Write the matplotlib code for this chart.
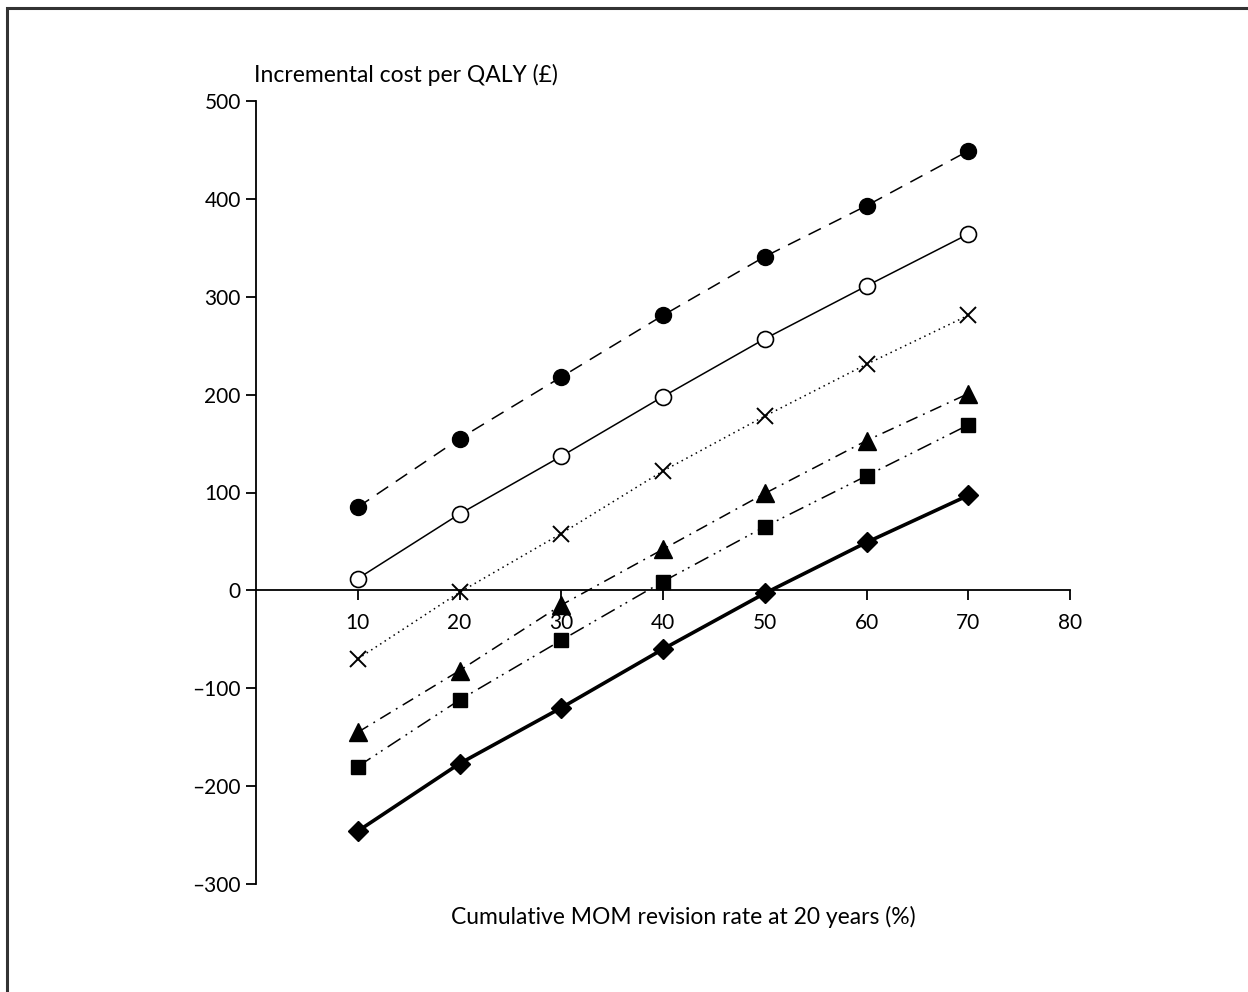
import matplotlib
matplotlib.use("Agg")
import matplotlib.pyplot as plt
from matplotlib.patches import Rectangle
from matplotlib.ticker import FuncFormatter

plt.rcParams['font.family'] = ['Lato', 'DejaVu Sans']

x = [10, 20, 30, 40, 50, 60, 70]
filled_circle = [85, 155, 218, 281, 341, 393, 449]
open_circle = [12, 78, 137, 198, 257, 311, 364]
cross = [-70, -2, 58, 122, 178, 231, 281]
triangle = [-145, -82, -15, 42, 99, 153, 201]
square = [-180, -112, -51, 9, 65, 117, 169]
diamond = [-246, -177, -120, -60, -3, 49, 97]

xticks = [10, 20, 30, 40, 50, 60, 70, 80]
yticks = [-300, -200, -100, 0, 100, 200, 300, 400, 500]

W, H = 1248, 992
fig = plt.figure(figsize=(W / 100, H / 100), dpi=100)
ax = fig.add_axes([256 / W, 1 - 884 / H, (1070 - 256) / W, (884 - 101) / H])

ax.plot(x, filled_circle, color='black', lw=1.1, ls=(0, (9, 6)), marker='o',
        ms=11.5, mfc='black', mec='black')
ax.plot(x, open_circle, color='black', lw=1.1, ls='-', marker='o',
        ms=11.5, mfc='white', mec='black', mew=1.2)
ax.plot(x, cross, color='black', lw=1.1, ls=(0, (1, 2.5)), marker='x',
        ms=11.5, mew=1.4)
ax.plot(x, triangle, color='black', lw=1.1, ls=(0, (8, 4, 1.2, 4)), marker='^',
        ms=12.5, mfc='black', mec='black')
ax.plot(x, square, color='black', lw=1.1, ls=(0, (10, 4, 1.2, 3, 1.2, 4)), marker='s',
        ms=10.5, mfc='black', mec='black')
ax.plot(x, diamond, color='black', lw=2.6, ls='-', marker='D',
        ms=10.5, mfc='black', mec='black')

ax.set_xlim(0, 80)
ax.set_ylim(-300, 500)
ax.set_xticks(xticks)
ax.set_yticks(yticks)
ax.spines['top'].set_visible(False)
ax.spines['right'].set_visible(False)
ax.spines['bottom'].set_position(('data', 0))
ax.spines['left'].set_linewidth(1.3)
ax.spines['bottom'].set_linewidth(1.3)
ax.tick_params(axis='both', direction='out', length=7, width=1.3, labelsize=15, colors='black')
ax.tick_params(axis='x', pad=9)
ax.tick_params(axis='y', pad=4)
ax.yaxis.set_major_formatter(FuncFormatter(lambda v, p: ('\u2013%d' % abs(v)) if v < 0 else '%d' % v))
ax.patch.set_visible(False)

fig.text(254 / W, 1 - 75 / H, 'Incremental cost per QALY (\u00a3)', fontsize=16.5,
         ha='left', va='center')
fig.text(683 / W, 1 - 917 / H, 'Cumulative MOM revision rate at 20 years (%)', fontsize=16.5,
         ha='center', va='center')

fig.patches.append(Rectangle((7 / W, -0.1), 1.2, 1 - 8 / H + 0.1, transform=fig.transFigure,
                             fill=False, edgecolor='#333333', lw=2.2))

fig.savefig('out.png', dpi=100)
